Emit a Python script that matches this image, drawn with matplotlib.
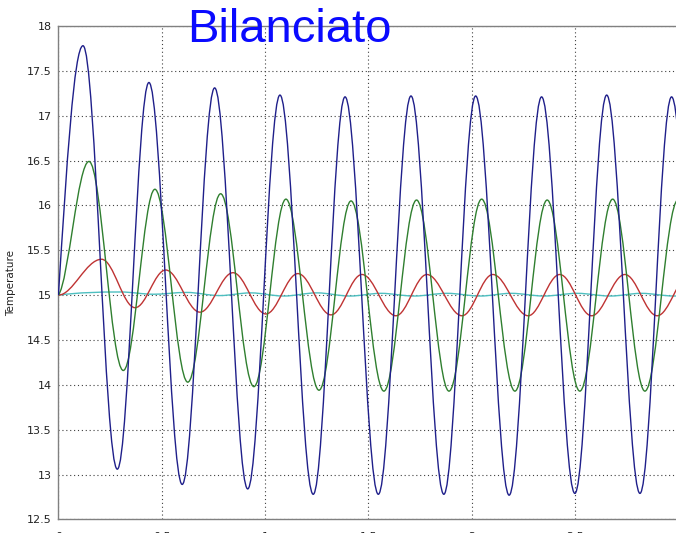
"""Bilanciato: temperature oscillations (recreated from a screenshot)."""

import matplotlib

matplotlib.use("Agg")
import matplotlib.pyplot as plt
from matplotlib.patches import PathPatch
from matplotlib.path import Path

# Turning points (time, temperature); each curve starts at 15.
blue_t = [0.0, 0.119, 0.285, 0.438, 0.599, 0.756, 0.916, 1.072, 1.233, 1.387,
          1.548, 1.706, 1.865, 2.019, 2.181, 2.338, 2.499, 2.653, 2.814, 2.967, 3.129]
blue_v = [15.0, 17.78, 13.06, 17.37, 12.89, 17.31, 12.84, 17.23, 12.78, 17.21,
          12.78, 17.22, 12.78, 17.22, 12.77, 17.21, 12.79, 17.23, 12.79, 17.21, 12.79]

green_t = [0.0, 0.148, 0.314, 0.467, 0.626, 0.785, 0.946, 1.101, 1.261, 1.416,
           1.575, 1.733, 1.890, 2.048, 2.209, 2.365, 2.523, 2.682, 2.838, 2.998, 3.153]
green_v = [15.0, 16.49, 14.16, 16.18, 14.03, 16.13, 13.98, 16.07, 13.94, 16.05,
           13.93, 16.06, 13.93, 16.07, 13.93, 16.06, 13.93, 16.07, 13.93, 16.06, 13.93]

red_t = [0.0, 0.209, 0.371, 0.519, 0.685, 0.845, 1.004, 1.159, 1.319, 1.469,
         1.633, 1.783, 1.953, 2.102, 2.273, 2.426, 2.580, 2.741, 2.897, 3.056]
red_v = [15.0, 15.40, 14.86, 15.28, 14.81, 15.25, 14.79, 15.24, 14.78, 15.23,
         14.77, 15.23, 14.77, 15.23, 14.77, 15.23, 14.77, 15.23, 14.77, 15.23]

cyan_t = [0.0, 0.30, 0.46, 0.62, 0.78, 0.93, 1.09, 1.25, 1.41, 1.56, 1.72,
          1.88, 2.04, 2.19, 2.35, 2.51, 2.67, 2.82, 2.98, 3.13]
cyan_v = [15.0, 15.035, 15.01, 15.03, 14.995, 15.025, 14.99, 15.025, 14.99, 15.02,
          14.99, 15.02, 14.99, 15.02, 14.99, 15.02, 14.99, 15.02, 14.99, 15.02]

# initial slope of each curve at t = 0
start_slope = {"blue": 36.0, "green": 3.0, "red": 0.0, "cyan": 0.3}

x_ticks = [0, 0.5, 1, 1.5, 2, 2.5, 3]
x_ticklabels = ["0", "0.5", "1", "1.5", "2", "2.5", "3"]
y_ticks = [12.5, 13, 13.5, 14, 14.5, 15, 15.5, 16, 16.5, 17, 17.5, 18]
y_ticklabels = ["12.5", "13", "13.5", "14", "14.5", "15", "15.5", "16",
                "16.5", "17", "17.5", "18"]


def wave_path(ts, vs, slope, a=0.36):
    """Smooth Bezier path through turning points (flat tangent at each extremum)."""
    verts = [(ts[0], vs[0])]
    codes = [Path.MOVETO]
    for i in range(1, len(ts)):
        t0, v0, t1, v1 = ts[i - 1], vs[i - 1], ts[i], vs[i]
        dt = t1 - t0
        if i == 1:
            c1 = (t0 + dt / 3, v0 + slope * dt / 3)
        else:
            c1 = (t0 + a * dt, v0)
        verts += [c1, (t1 - a * dt, v1), (t1, v1)]
        codes += [Path.CURVE4] * 3
    return Path(verts, codes)


fig = plt.figure(figsize=(6.76, 5.33), dpi=100)
ax = fig.add_axes([58.4 / 676, (533 - 519.4) / 533, 620 / 676, 493.4 / 533])

curves = [
    (cyan_t, cyan_v, "cyan", "#4dbfc0"),
    (red_t, red_v, "red", "#bf3333"),
    (green_t, green_v, "green", "#2f7f2f"),
    (blue_t, blue_v, "blue", "#1f1f8a"),
]
for ts, vs, key, color in curves:
    patch = PathPatch(wave_path(ts, vs, start_slope[key]), fill=False,
                      edgecolor=color, linewidth=1.0, zorder=3)
    ax.add_patch(patch)

ax.set_xlim(0, 3)
ax.set_ylim(12.5, 18)
ax.set_xticks(x_ticks, x_ticklabels)
ax.set_yticks(y_ticks, y_ticklabels)
ax.tick_params(length=0, labelsize=8, colors="#222222", pad=5)
ax.tick_params(axis="x", pad=9)
ax.grid(True, color="#404040", linestyle=(0, (1, 2.5)), linewidth=0.8)
for side in ax.spines.values():
    side.set_color("#808080")
    side.set_linewidth(1.0)

ax.set_ylabel("Temperature", fontsize=7.5, color="#222222")
ax.yaxis.set_label_coords(-0.068, 0.48)

fig.text(289 / 676, (533 - 42) / 533, "Bilanciato", color="#0a0aff",
         fontsize=34, family="Liberation Sans", ha="center", va="baseline")

fig.savefig("out.png", dpi=100)
